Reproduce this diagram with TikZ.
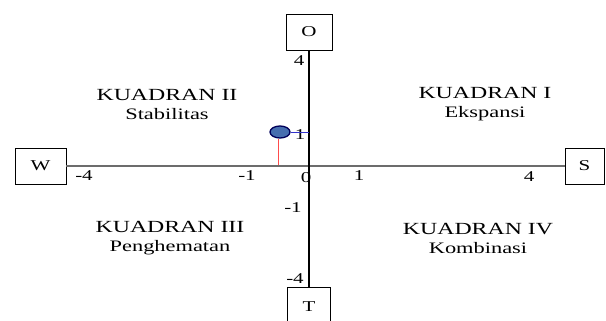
\documentclass[tikz,border=0pt]{standalone}
\usepackage{fontspec}
\setmainfont[FakeStretch=1.4]{Liberation Serif}
\usetikzlibrary{shapes.geometric}

\begin{document}
\begin{tikzpicture}
  [x=1pt,y=-1pt,
   dirbox/.style={rectangle, draw, line width=0.9pt, font=\fontsize{15}{16}\selectfont},
   tick/.style={font=\fontsize{15}{16}\selectfont, inner sep=0pt},
   quad/.style={align=center, inner sep=0pt, font=\fontsize{17}{19}\selectfont}]
  \useasboundingbox (0,0) rectangle (606,321);
  \clip (0,0) rectangle (606,321);

  % direction boxes
  \node[dirbox, minimum width=46pt, minimum height=36pt] (O) at (309,32) {O};
  \node[dirbox, minimum width=51pt, minimum height=36pt] (W) at (40.5,166) {W};
  \node[dirbox, minimum width=39pt, minimum height=36pt] (S) at (584.5,166) {S};
  \node[dirbox, minimum width=43pt, minimum height=40pt] (T) at (309,307) {T};

  % axes
  \draw[gray!85!black, line width=1.6pt] (W) -- (S);
  \draw[line width=1.3pt] (O) -- (T);

  % tick labels
  \node[tick] (t4) at (299,61) {4};
  \node[tick] (t1) at (300,135) {1};
  \node[tick] (tm1) at (293,208) {-1};
  \node[tick] (tm4) at (295,279) {-4};
  \node[tick] (lm4) at (84,176) {-4};
  \node[tick] (lm1) at (247,176) {-1};
  \node[tick] (l0) at (306,178) {0};
  \node[tick] (l1) at (359,176) {1};
  \node[tick] (l4) at (529,177) {4};

  % quadrants
  \node[quad] (q2) at (167,104) {KUADRAN II\\ \fontsize{16}{19}\selectfont Stabilitas};
  \node[quad] (q1) at (485,104) {KUADRAN I\\ \fontsize{16}{19}\selectfont Ekspansi};
  \node[quad] (q3) at (170,238) {KUADRAN III\\ \fontsize{16}{19}\selectfont Penghematan};
  \node[quad] (q4) at (478,238) {KUADRAN IV\\ \fontsize{16}{19}\selectfont Kombinasi};

  % position point
  \node[ellipse, draw=blue!35!black, line width=1.3pt, fill={rgb,255:red,70;green,110;blue,175},
        minimum width=20pt, minimum height=12pt, inner sep=0pt] (pt) at (280,132) {};
  \coordinate (px) at (278,165);
  \coordinate (py) at (309,132);
  \draw[red!70, line width=0.8pt] (px) -- (px |- pt.south);
  \draw[blue!60!gray, line width=0.8pt] (pt) -- (py);
\end{tikzpicture}
\end{document}
